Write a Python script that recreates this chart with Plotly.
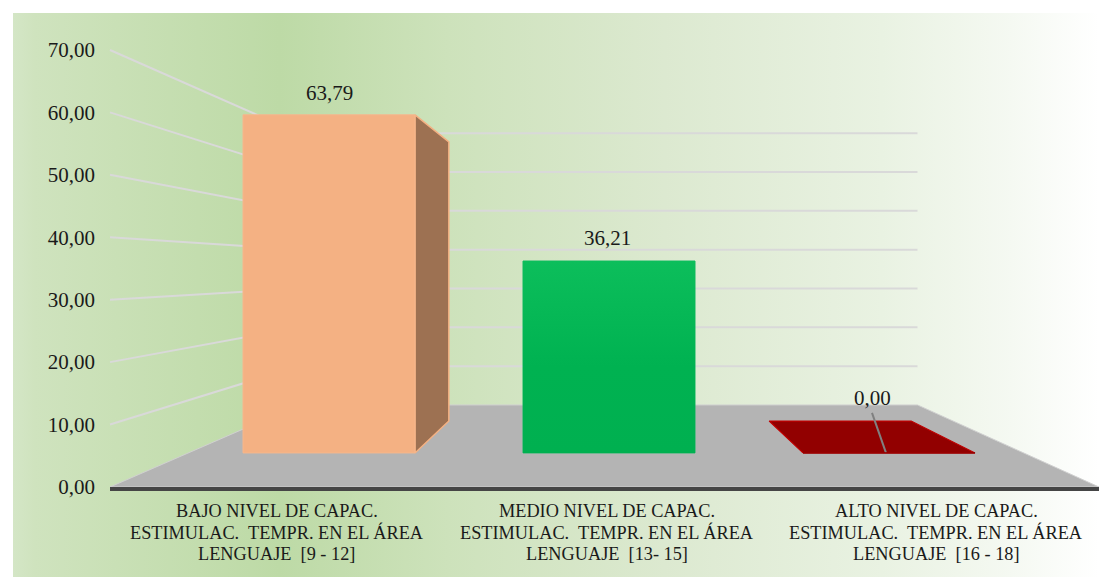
import plotly.graph_objects as go

# ---- data -------------------------------------------------------------
categories = [
    "BAJO NIVEL DE CAPAC.<br>ESTIMULAC.  TEMPR. EN EL ÁREA<br>LENGUAJE  [9 - 12]",
    "MEDIO NIVEL DE CAPAC.<br>ESTIMULAC.  TEMPR. EN EL ÁREA<br>LENGUAJE  [13- 15]",
    "ALTO NIVEL DE CAPAC.<br>ESTIMULAC.  TEMPR. EN EL ÁREA<br>LENGUAJE  [16 - 18]",
]
values = [63.79, 36.21, 0.00]
bar_keys = ["b0", "b1", "b2"]
axis_ticks = [0, 10, 20, 30, 40, 50, 60, 70]

# ---- scene geometry (perspective of the 3-D box, in picture pixels) ---
W, H = 1099, 577
VX, VY = 609.0, 270.0          # vanishing point
AX_L, AX_R = 110.0, 1099.0     # front edge of the floor
BACK_R = 1105.0                # right wall position before projection
Y0, PX_PER_UNIT = 487.0, 6.243 # value axis on the front plane
T_BACK = 0.378                 # depth of the back wall
T_BAR_F, T_BAR_B = 0.157, 0.304  # depth of bar fronts / backs
BAR_L0, BAR_PITCH, BAR_W = 243.0, 280.0, 172.0


def proj(x, y, t):
    return x + t * (VX - x), y + t * (VY - y)


def front_y(v):
    return Y0 - v * PX_PER_UNIT


def bar_back(x, y_front):
    """Project a point of the bar's front plane on to its back plane."""
    t = 1 - (1 - T_BAR_B) / (1 - T_BAR_F)
    return x + t * (VX - x), y_front + t * (VY - y_front)


BAR_BASE = proj(0, Y0, T_BAR_F)[1]
BAR_SCALE = 5.3


def bar_y(v):
    return BAR_BASE - v * BAR_SCALE


FONT = "Liberation Serif"
TEXT = "#1a1a1a"
fig = go.Figure()

# background panel
fig.add_trace(go.Scatter(
    x=[13, W, W, 13, 13], y=[13, 13, H, H, 13], mode="none", fill="toself",
    fillgradient=dict(type="horizontal", colorscale=[
        [0.0, "#d4e6c6"], [0.02, "#cfe3be"], [0.245, "#bddaa6"], [0.40, "#cde2bb"],
        [0.60, "#dce9d0"], [0.80, "#e9f2e2"], [0.92, "#f5f9f2"], [1.0, "#ffffff"]]),
    hoverinfo="skip", showlegend=False))

# floor
fl = [proj(AX_L, Y0, 0), proj(AX_R, Y0, 0), proj(BACK_R, Y0, T_BACK), proj(AX_L, Y0, T_BACK)]
fig.add_trace(go.Scatter(
    x=[p[0] for p in fl] + [fl[0][0]], y=[p[1] for p in fl] + [fl[0][1]],
    mode="lines", fill="toself", fillcolor="#b4b4b4", line=dict(color="#d0d0d0", width=1),
    hoverinfo="skip", showlegend=False))

# walls: gridlines
GRID = "#d9d9d9"
for tv in axis_ticks[1:]:
    a = proj(AX_L, front_y(tv), 0)
    b = proj(AX_L, front_y(tv), T_BACK)
    c = proj(BACK_R, front_y(tv), T_BACK)
    fig.add_trace(go.Scatter(x=[a[0], b[0], c[0]], y=[a[1], b[1], c[1]], mode="lines",
                             line=dict(color=GRID, width=2), hoverinfo="skip", showlegend=False))

# visible depth faces
for i, v in enumerate(values):
    xl = BAR_L0 + i * BAR_PITCH
    xr = xl + BAR_W
    if v > 0 and xr < VX - 10:      # right side face is visible
        yt, yb = bar_y(v), bar_y(0)
        p1, p2 = bar_back(xr, yt), bar_back(xr, yb)
        fig.add_trace(go.Scatter(
            x=[xr, p1[0], p2[0], xr, xr], y=[yt, p1[1], p2[1], yb, yt], mode="lines",
            fill="toself", fillcolor="#9d7152", line=dict(color="#f4b183", width=1.5),
            hoverinfo="skip", showlegend=False))
    if v == 0:                      # flat top of the empty bar
        yb = bar_y(0)
        p1, p2 = bar_back(xl, yb), bar_back(xr, yb)
        fig.add_trace(go.Scatter(
            x=[xl, xr, p2[0], p1[0], xl], y=[yb, yb, p2[1], p1[1], yb], mode="lines",
            fill="toself", fillcolor="#920000", line=dict(color="#c00000", width=1.2),
            hoverinfo="skip", showlegend=False))
        # leader line of the label
        fig.add_trace(go.Scatter(
            x=[xl + 69, xl + 83], y=[yb - 40, yb], mode="lines",
            line=dict(color="#808080", width=2), hoverinfo="skip", showlegend=False))

# bars (front faces)
fig.add_trace(go.Bar(
    x=bar_keys, y=values, xaxis="x2", yaxis="y2", width=BAR_W / BAR_PITCH,
    marker=dict(color=["#f4b183", "#06b654", "#920000"],
                line=dict(color=["#f6b78c", "#14b860", "#920000"], width=1)),
    hoverinfo="skip", showlegend=False))

# soft gradient on the green bar
gv = values[1]
half = BAR_W / BAR_PITCH / 2
fig.add_trace(go.Scatter(
    x=[1 - half, 1 + half, 1 + half, 1 - half, 1 - half], y=[gv, gv, 0, 0, gv],
    xaxis="x4", yaxis="y2", mode="none", fill="toself",
    fillgradient=dict(type="vertical", colorscale=[[0, "#00b050"], [0.45, "#00b251"], [1, "#0cbe5b"]]),
    hoverinfo="skip", showlegend=False))

# value-axis / category-axis subplot
fig.add_trace(go.Scatter(x=categories, y=[None] * 3, xaxis="x3", yaxis="y3", mode="lines",
                         hoverinfo="skip", showlegend=False))

shift = [(0, 8), (-2, 9), (-17, 41)]
for i, v in enumerate(values):
    fig.add_annotation(x=bar_keys[i], y=v, xref="x2", yref="y2", text=f"{v:.2f}".replace(".", ","),
                       showarrow=False, yanchor="bottom", xshift=shift[i][0], yshift=shift[i][1],
                       font=dict(family=FONT, size=21, color=TEXT))

# category labels, line by line, so that their spacing can follow the picture
for cat in categories:
    for j, line in enumerate(cat.split("<br>")):
        fig.add_annotation(x=cat, y=0, xref="x3", yref="y3", text=line, showarrow=False,
                           yanchor="middle", yshift=-(23.5 + 21.5 * j), xshift=2,
                           font=dict(family=FONT, size=18.3, color=TEXT))

x2dom = [(BAR_L0 + BAR_W / 2 - BAR_PITCH / 2) / W, (BAR_L0 + BAR_W / 2 + 2.5 * BAR_PITCH) / W]
fig.update_layout(
    width=W, height=H, autosize=False,
    margin=dict(l=0, r=0, t=0, b=0, pad=0, autoexpand=False),
    paper_bgcolor="#ffffff", plot_bgcolor="rgba(0,0,0,0)",
    separators=", ", barmode="overlay", showlegend=False,
    xaxis=dict(domain=[0, 1], range=[0, W], visible=False, fixedrange=True, automargin=False),
    yaxis=dict(domain=[0, 1], range=[H, 0], visible=False, fixedrange=True, automargin=False),
    xaxis2=dict(domain=x2dom, range=[-0.5, 2.5], type="category", categoryorder="array", categoryarray=bar_keys,
                visible=False, anchor="y2", fixedrange=True, automargin=False),
    xaxis4=dict(domain=x2dom, range=[-0.5, 2.5], visible=False, anchor="y2", fixedrange=True, automargin=False),
    yaxis2=dict(domain=[0, 1], range=[(H - BAR_BASE) / -BAR_SCALE, BAR_BASE / BAR_SCALE],
                visible=False, anchor="x2", fixedrange=True, automargin=False),
    xaxis3=dict(domain=[AX_L / W, AX_R / W], type="category", categoryorder="array", categoryarray=categories,
                range=[-0.5, 2.5], anchor="y3", showgrid=False, zeroline=False,
                showline=True, linecolor="#454545", linewidth=4, ticks="", showticklabels=False,
                fixedrange=True, automargin=False),
    yaxis3=dict(domain=[(H - Y0) / H, (H - front_y(70)) / H], range=[0, 70], tickvals=axis_ticks,
                tickformat=".2f", anchor="x3", showgrid=False, zeroline=False, showline=False,
                ticks="", ticklabelstandoff=14, tickfont=dict(family=FONT, size=21, color=TEXT),
                fixedrange=True, automargin=False),
)

fig.write_html("out.html", config=dict(displayModeBar=False),
               post_script="document.body.style.margin='0';document.body.style.overflow='hidden';")
